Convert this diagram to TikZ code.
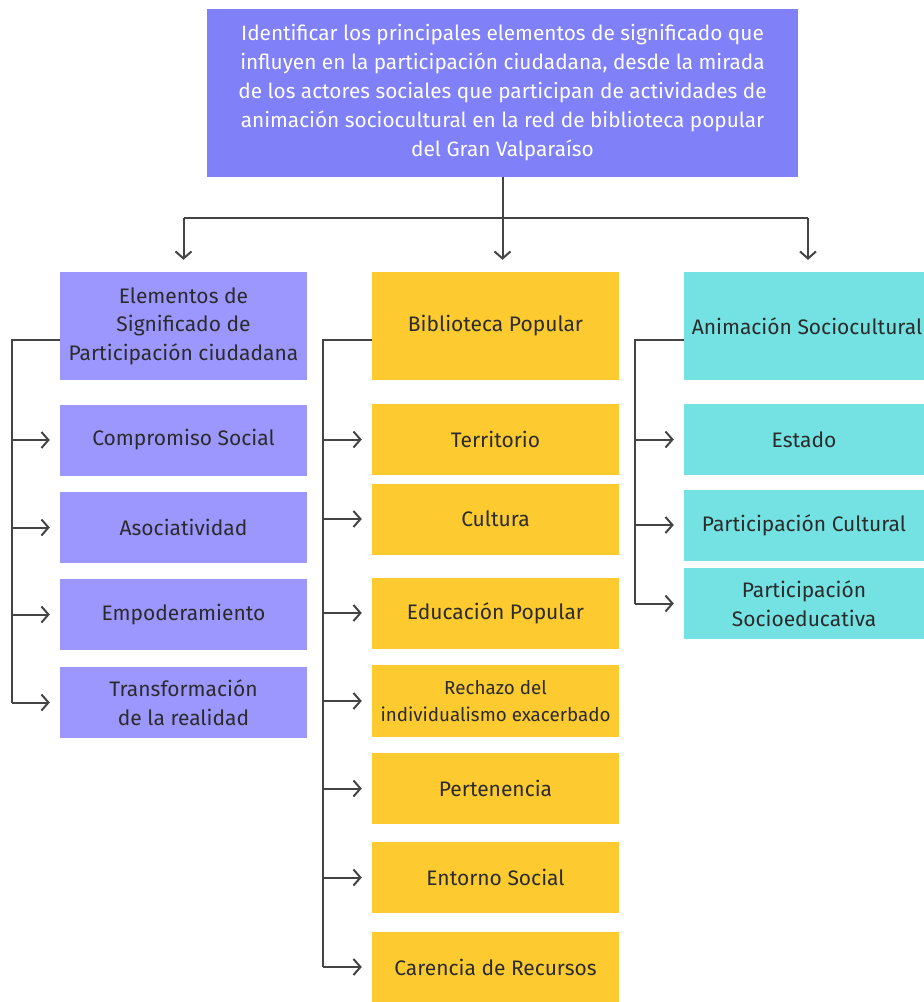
\documentclass[tikz,border=0pt]{standalone}
\usepackage{fontspec}
\setmainfont{Fira Sans}
\usetikzlibrary{arrows.meta}
\definecolor{topc}{HTML}{8080F8}
\definecolor{lavc}{HTML}{9C97FF}
\definecolor{yelc}{HTML}{FDCB2F}
\definecolor{cyac}{HTML}{74E2E2}
\definecolor{linec}{HTML}{444444}
\definecolor{txtc}{HTML}{2B2B2B}
\tikzset{
  box/.style={draw=none, inner sep=0pt, align=center, text=txtc,
    font=\fontsize{21}{28.5}\selectfont},
  lbox/.style={box, fill=lavc, minimum width=247pt},
  ybox/.style={box, fill=yelc, minimum width=247pt},
  cbox/.style={box, fill=cyac, minimum width=240pt},
  conn/.style={draw=linec, line width=2pt},
  arr/.style={conn, -{Straight Barb[length=7pt,width=16pt,line width=2pt]}},
}
\begin{document}
\begin{tikzpicture}[x=1pt,y=-1pt]
\useasboundingbox (0,0) rectangle (924,1002);
% top
\node[box, fill=topc, text=white, minimum width=591pt, minimum height=168pt,
  font=\fontsize{20.8}{29}\selectfont] (top) at (502.5,93)
  {Identificar los principales elementos de significado que\\
   influyen en la participación ciudadana, desde la mirada\\
   de los actores sociales que participan de actividades de\\
   animación sociocultural en la red de biblioteca popular\\
   del Gran Valparaíso};
% headers
\node[lbox, minimum height=108pt] (hL) at (183.5,326)
  {Elementos de\\Significado de\\Participación ciudadana};
\node[ybox, minimum height=108pt] (hM) at (495.5,326) {Biblioteca Popular};
\node[cbox, minimum height=108pt] (hR) at (804,326) {\hspace*{6pt}Animación Sociocultural};
% left children
\node[lbox, minimum height=71pt] (l1) at (183.5,440) {Compromiso Social};
\node[lbox, minimum height=71pt] (l2) at (183.5,527.5) {Asociatividad};
\node[lbox, minimum height=71pt] (l3) at (183.5,614.5) {Empoderamiento};
\node[lbox, minimum height=71pt] (l4) at (183.5,702.5) {Transformación\\de la realidad};
% middle children
\node[ybox, minimum height=71pt] (m1) at (495.5,439.5) {Territorio};
\node[ybox, minimum height=71pt] (m2) at (495.5,519) {Cultura};
\node[ybox, minimum height=71pt] (m3) at (495.5,613) {Educación Popular};
\node[ybox, minimum height=72pt, font=\fontsize{18.8}{27}\selectfont] (m4) at (495.5,701)
  {Rechazo del\\individualismo exacerbado};
\node[ybox, minimum height=71pt] (m5) at (495.5,788.5) {Pertenencia};
\node[ybox, minimum height=71pt] (m6) at (495.5,877.5) {Entorno Social};
\node[ybox, minimum height=70pt] (m7) at (495.5,967) {Carencia de Recursos};
% right children
\node[cbox, minimum height=71pt] (r1) at (804,439.5) {Estado};
\node[cbox, minimum height=71pt] (r2) at (804,525) {Participación Cultural};
\node[cbox, minimum height=71pt] (r3) at (804,603.5) {Participación\\Socioeducativa};
% top connectors
\coordinate (hub) at (top.south |- 0,218);
\coordinate (hubL) at (hL.north |- 0,218);
\coordinate (hubR) at (808,218);
\draw[conn] (top.south) -- (hub);
\draw[conn] (hubL) -- (hubR);
\draw[arr, shorten >=12pt] (hubL) -- (hL.north);
\draw[arr, shorten >=12pt] (hub) -- (hub |- hM.north);
\draw[arr, shorten >=12pt] (hubR) -- (hubR |- hR.north);
% left tree
\coordinate (sL) at (12,340);
\draw[conn] ([yshift=-14pt]hL.west) -- (sL) -- (sL |- l4.west);
\foreach \n in {l1,l2,l3,l4}{
  \draw[arr, shorten >=10pt] (sL |- \n.west) -- (\n.west);
}
% middle tree
\coordinate (sM) at (323,340);
\draw[conn] ([yshift=-14pt]hM.west) -- (sM) -- (sM |- m7.west);
\foreach \n in {m1,m2,m3,m4,m5,m6,m7}{
  \draw[arr, shorten >=10pt] (sM |- \n.west) -- (\n.west);
}
% right tree
\coordinate (sR) at (635,340);
\draw[conn] ([yshift=-14pt]hR.west) -- (sR) -- (sR |- r3.west);
\foreach \n in {r1,r2,r3}{
  \draw[arr, shorten >=10pt] (sR |- \n.west) -- (\n.west);
}
\end{tikzpicture}
\end{document}
